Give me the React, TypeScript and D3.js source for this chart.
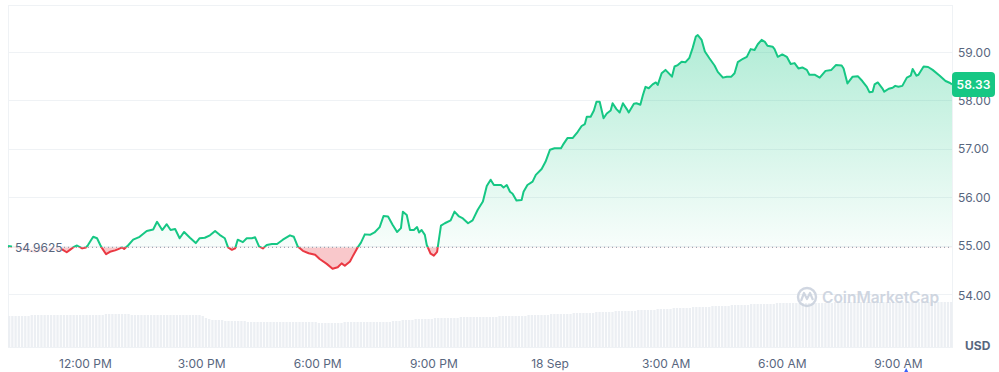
import React, { useRef, useEffect } from 'react';
import * as d3 from 'd3';

const width = 999;
const height = 372;
const plot = { left: 8, right: 952, top: 5, bottom: 347 };

// minutes after 10:00 AM on 17 Sep
const priceMinutes = [
  0, 11, 26, 42, 57, 73, 85, 91, 96, 102,
  107, 115, 121, 124, 132, 138, 143, 146, 152, 158,
  166, 170, 177, 180, 186, 194, 204, 215, 225, 231,
  239, 246, 252, 259, 266, 273, 282, 291, 297, 305,
  313, 321, 328, 336, 341, 347, 352, 356, 364, 370,
  378, 383, 389, 395, 401, 409, 417, 426, 437, 443,
  449, 457, 466, 476, 483, 494, 503, 511, 517, 522,
  530, 534, 541, 547, 553, 561, 568, 576, 582, 589,
  596, 603, 609, 612, 618, 623, 629, 634, 637, 641,
  646, 649, 655, 660, 665, 671, 677, 686, 692, 699,
  705, 713, 720, 728, 736, 742, 748, 753, 764, 768,
  773, 778, 782, 788, 796, 799, 805, 813, 818, 827,
  833, 840, 847, 857, 860, 867, 875, 883, 889, 894,
  897, 903, 908, 912, 917, 923, 928, 934, 937, 943,
  948, 953, 959, 962, 970, 974, 980, 984, 988, 993,
  999, 1004, 1007, 1013, 1019, 1022, 1029, 1033, 1038, 1044,
  1050, 1056, 1061, 1066, 1069, 1075, 1080, 1087, 1095, 1100,
  1108, 1114, 1121, 1126, 1131, 1139, 1145, 1151, 1157, 1162,
  1168, 1173, 1177, 1185, 1188, 1193, 1200, 1207, 1213, 1219,
  1225, 1231, 1238, 1242, 1250, 1258, 1267, 1276, 1283, 1292,
  1295, 1301, 1309, 1317, 1324, 1331, 1335, 1340, 1343, 1348,
  1355, 1358, 1365, 1371, 1375, 1380, 1386, 1393, 1399, 1402,
  1408, 1411, 1419, 1426, 1433, 1444, 1453, 1460, 1463,
];

const priceValues = [
  54.99, 54.97, 54.91, 54.87, 54.91, 54.93, 54.91, 54.86, 54.91, 54.97,
  55.0, 54.94, 54.96, 55.01, 55.18, 55.15, 55.01, 54.94, 54.82, 54.87,
  54.9, 54.92, 54.96, 54.93, 55.0, 55.12, 55.18, 55.3, 55.33, 55.49,
  55.32, 55.44, 55.32, 55.34, 55.15, 55.28, 55.16, 55.05, 55.15, 55.16,
  55.21, 55.3, 55.22, 55.15, 54.96, 54.91, 54.94, 55.12, 55.07, 55.15,
  55.15, 55.17, 54.98, 54.94, 55.01, 55.03, 55.03, 55.12, 55.21, 55.18,
  54.98, 54.89, 54.84, 54.81, 54.72, 54.62, 54.52, 54.55, 54.63, 54.58,
  54.67, 54.77, 54.94, 55.06, 55.23, 55.22, 55.27, 55.38, 55.61, 55.6,
  55.43, 55.28, 55.36, 55.7, 55.63, 55.32, 55.32, 55.38, 55.27, 55.32,
  55.22, 55.01, 54.83, 54.79, 54.87, 55.41, 55.46, 55.52, 55.7, 55.6,
  55.56, 55.46, 55.52, 55.74, 55.91, 56.23, 56.36, 56.25, 56.25, 56.2,
  56.25, 56.11, 56.07, 55.93, 55.94, 56.11, 56.25, 56.32, 56.46, 56.58,
  56.73, 56.98, 57.01, 57.01, 57.08, 57.22, 57.22, 57.35, 57.47, 57.51,
  57.66, 57.66, 57.79, 57.97, 57.97, 57.63, 57.73, 57.79, 57.94, 57.82,
  57.75, 57.94, 57.82, 57.75, 57.93, 57.94, 57.91, 58.11, 58.28, 58.25,
  58.33, 58.37, 58.32, 58.56, 58.63, 58.59, 58.49, 58.7, 58.73, 58.8,
  58.79, 58.88, 59.08, 59.32, 59.35, 59.25, 59.01, 58.87, 58.72, 58.59,
  58.47, 58.49, 58.49, 58.56, 58.79, 58.86, 58.9, 59.06, 59.04, 59.16,
  59.25, 59.21, 59.13, 59.11, 59.06, 58.9, 58.95, 58.9, 58.75, 58.77,
  58.66, 58.68, 58.63, 58.53, 58.53, 58.47, 58.61, 58.63, 58.73, 58.72,
  58.66, 58.35, 58.49, 58.5, 58.4, 58.28, 58.17, 58.18, 58.33, 58.37,
  58.25, 58.18, 58.24, 58.26, 58.3, 58.28, 58.3, 58.47, 58.51, 58.65,
  58.51, 58.53, 58.7, 58.69, 58.63, 58.51, 58.4, 58.36, 58.33,
];

const baselinePrice = 54.9625;
const lastPrice = 58.33;
const priceTicks = [54, 55, 56, 57, 58, 59];

// volume bars, one every 5 minutes from 10:00 AM (one row per hour)
const volumeStep = 5;
const volumes = [
  31, 31, 31, 31, 31, 31, 31, 32, 32, 32, 32, 32,
  32, 32, 32, 32, 32, 32, 32, 32, 32, 32, 32, 32,
  32, 32, 32, 32, 32, 32, 33, 33, 33, 33, 33, 33,
  33, 33, 32, 32, 32, 32, 32, 32, 32, 32, 32, 32,
  32, 32, 32, 32, 32, 32, 32, 32, 32, 32, 32, 32,
  31, 29, 28, 27, 27, 27, 27, 26, 26, 26, 26, 26,
  26, 26, 25, 25, 25, 25, 25, 25, 25, 25, 25, 25,
  25, 25, 25, 25, 25, 25, 25, 25, 25, 25, 25, 25,
  24, 24, 24, 24, 24, 24, 24, 24, 25, 25, 25, 25,
  25, 25, 25, 25, 25, 25, 25, 25, 25, 25, 25, 26,
  26, 26, 27, 27, 27, 27, 28, 28, 28, 28, 28, 28,
  29, 29, 29, 29, 29, 29, 29, 29, 30, 30, 30, 30,
  30, 30, 30, 30, 30, 30, 30, 30, 31, 31, 31, 31,
  31, 31, 31, 31, 31, 32, 32, 32, 32, 32, 32, 32,
  33, 33, 33, 33, 33, 33, 33, 34, 34, 34, 34, 34,
  34, 34, 35, 35, 35, 35, 35, 35, 36, 36, 36, 36,
  36, 36, 36, 37, 37, 37, 37, 37, 37, 38, 38, 38,
  38, 38, 39, 39, 39, 39, 39, 39, 40, 40, 40, 40,
  40, 40, 41, 41, 41, 41, 41, 41, 42, 42, 42, 42,
  42, 42, 43, 43, 43, 43, 43, 43, 43, 43, 44, 44,
  44, 44, 44, 44, 44, 44, 44, 44, 44, 44, 44, 44,
  44, 44, 44, 44, 45, 45, 45, 45, 45, 45, 45, 45,
  45, 45, 45, 45, 45, 45, 45, 45, 45, 45, 45, 45,
  45, 45, 45, 45, 45, 45, 45, 45, 45, 45, 45, 45,
  45, 45, 45, 45, 45,
];

const green = '#16c784';
const red = '#ea3943';
const textGray = '#58667e';
const gridGray = '#eff2f5';
const font = 'Inter, "Noto Sans", sans-serif';

const startTime = new Date(2024, 8, 17, 10, 0);
const endTime = d3.timeMinute.offset(startTime, 1463);

const PriceChart: React.FC = () => {
  const chartRef = useRef<HTMLDivElement>(null);

  useEffect(() => {
    document.body.style.margin = '0';
    const data = priceMinutes.map((m, i) => ({
      t: d3.timeMinute.offset(startTime, m),
      p: priceValues[i],
    }));

    const x = d3.scaleTime().domain([startTime, endTime]).range([plot.left, plot.right]);
    const y = d3.scaleLinear().domain([55, 59]).range([245.5, 52]);
    const yVol = d3.scaleLinear().domain([0, 50]).range([plot.bottom, 297]);
    const yBase = y(baselinePrice);

    d3.select(chartRef.current).selectAll('svg').remove();
    const svg = d3
      .select(chartRef.current)
      .append('svg')
      .attr('width', width)
      .attr('height', height)
      .attr('viewBox', `0 0 ${width} ${height}`)
      .style('display', 'block')
      .style('font-family', font);

    const defs = svg.append('defs');
    const gUp = defs
      .append('linearGradient')
      .attr('id', 'upFill')
      .attr('gradientUnits', 'userSpaceOnUse')
      .attr('x1', 0)
      .attr('x2', 0)
      .attr('y1', y(59.4))
      .attr('y2', yBase);
    gUp.append('stop').attr('offset', 0).attr('stop-color', green).attr('stop-opacity', 0.34);
    gUp.append('stop').attr('offset', 1).attr('stop-color', green).attr('stop-opacity', 0.03);

    defs
      .append('clipPath')
      .attr('id', 'clipUp')
      .append('rect')
      .attr('x', 0)
      .attr('y', 0)
      .attr('width', width)
      .attr('height', yBase);
    defs
      .append('clipPath')
      .attr('id', 'clipDown')
      .append('rect')
      .attr('x', 0)
      .attr('y', yBase)
      .attr('width', width)
      .attr('height', height - yBase);

    /** frame + grid */
    svg
      .append('rect')
      .attr('x', plot.left + 0.5)
      .attr('y', plot.top + 0.5)
      .attr('width', plot.right - plot.left)
      .attr('height', plot.bottom - plot.top)
      .attr('fill', 'none')
      .attr('stroke', gridGray);

    svg
      .append('g')
      .selectAll('line')
      .data(priceTicks)
      .join('line')
      .attr('x1', plot.left)
      .attr('x2', plot.right)
      .attr('y1', (d) => Math.round(y(d)) + 0.5)
      .attr('y2', (d) => Math.round(y(d)) + 0.5)
      .attr('stroke', gridGray);

    /** volume */
    svg
      .append('g')
      .attr('fill', '#eceff3')
      .selectAll('rect')
      .data(volumes)
      .join('rect')
      .attr('x', (d, i) => x(d3.timeMinute.offset(startTime, i * volumeStep)))
      .attr('y', (d) => yVol(d))
      .attr('width', 2.3)
      .attr('height', (d) => plot.bottom - yVol(d));

    /** watermark */
    const wm = svg.append('g').attr('opacity', 0.85);
    wm.append('circle')
      .attr('cx', 807)
      .attr('cy', 297)
      .attr('r', 9)
      .attr('fill', 'none')
      .attr('stroke', '#c8d0dc')
      .attr('stroke-width', 2.4);
    wm.append('path')
      .attr('d', 'M801,301 L804,293 L807,299 L810,293 L813,300')
      .attr('fill', 'none')
      .attr('stroke', '#c8d0dc')
      .attr('stroke-width', 2.2)
      .attr('stroke-linejoin', 'round');
    wm.append('text')
      .attr('x', 822)
      .attr('y', 297)
      .attr('dominant-baseline', 'central')
      .attr('font-size', 15.5)
      .attr('font-weight', 600)
      .attr('fill', '#c8d0dc')
      .text('CoinMarketCap');

    /** areas */
    const area = d3
      .area<{ t: Date; p: number }>()
      .x((d) => x(d.t))
      .y0(yBase)
      .y1((d) => y(d.p));
    svg
      .append('path')
      .datum(data)
      .attr('clip-path', 'url(#clipUp)')
      .attr('fill', 'url(#upFill)')
      .attr('d', area);
    svg
      .append('path')
      .datum(data)
      .attr('clip-path', 'url(#clipDown)')
      .attr('fill', red)
      .attr('fill-opacity', 0.28)
      .attr('d', area);

    /** baseline */
    svg
      .append('line')
      .attr('x1', plot.left)
      .attr('x2', plot.right)
      .attr('y1', yBase)
      .attr('y2', yBase)
      .attr('stroke', '#8a93a4')
      .attr('stroke-width', 1)
      .attr('stroke-dasharray', '1 3');

    /** price line */
    const line = d3
      .line<{ t: Date; p: number }>()
      .x((d) => x(d.t))
      .y((d) => y(d.p));
    svg
      .append('path')
      .datum(data)
      .attr('clip-path', 'url(#clipUp)')
      .attr('fill', 'none')
      .attr('stroke', green)
      .attr('stroke-width', 2)
      .attr('stroke-linejoin', 'round')
      .attr('d', line);
    svg
      .append('path')
      .datum(data)
      .attr('clip-path', 'url(#clipDown)')
      .attr('fill', 'none')
      .attr('stroke', red)
      .attr('stroke-width', 2)
      .attr('stroke-linejoin', 'round')
      .attr('d', line);

    /** baseline label */
    svg
      .append('rect')
      .attr('x', 12)
      .attr('y', yBase - 8)
      .attr('width', 50)
      .attr('height', 16)
      .attr('rx', 2)
      .attr('fill', '#fff')
      .attr('fill-opacity', 0.85);
    svg
      .append('text')
      .attr('x', 15)
      .attr('y', yBase)
      .attr('dominant-baseline', 'central')
      .attr('font-size', 12)
      .attr('fill', textGray)
      .text(String(baselinePrice));

    /** y axis labels */
    svg
      .append('g')
      .selectAll('text')
      .data(priceTicks)
      .join('text')
      .attr('x', 958)
      .attr('y', (d) => y(d) + (d === 54 ? 2 : 0))
      .attr('dominant-baseline', 'central')
      .attr('font-size', 12)
      .attr('fill', textGray)
      .text((d) => d.toFixed(2));

    /** current price tag */
    const yLast = y(lastPrice);
    svg
      .append('rect')
      .attr('x', plot.right)
      .attr('y', yLast - 12.5)
      .attr('width', 43)
      .attr('height', 25)
      .attr('rx', 4)
      .attr('fill', green);
    svg
      .append('text')
      .attr('x', plot.right + 21.5)
      .attr('y', yLast)
      .attr('text-anchor', 'middle')
      .attr('dominant-baseline', 'central')
      .attr('font-size', 12)
      .attr('font-weight', 600)
      .attr('fill', '#fff')
      .text(lastPrice.toFixed(2));

    svg
      .append('text')
      .attr('x', 965)
      .attr('y', 345)
      .attr('dominant-baseline', 'central')
      .attr('font-size', 12)
      .attr('font-weight', 700)
      .attr('fill', textGray)
      .text('USD');

    /** x axis labels */
    const fmt = (d: Date) =>
      d.getHours() === 0 ? d3.timeFormat('%-d %b')(d) : d3.timeFormat('%-I:%M %p')(d);
    svg
      .append('g')
      .selectAll('text')
      .data(x.ticks(d3.timeHour.every(3)!))
      .join('text')
      .attr('x', (d) => x(d))
      .attr('y', 363)
      .attr('text-anchor', 'middle')
      .attr('dominant-baseline', 'central')
      .attr('font-size', 12)
      .attr('fill', textGray)
      .text(fmt);

    /** event marker under the axis */
    const mx = x(new Date(2024, 8, 18, 9, 12));
    svg
      .append('path')
      .attr('d', `M${mx},368 L${mx - 2.5},373 L${mx + 2.5},373 Z`)
      .attr('fill', '#3861fb');
  }, []);

  return <div ref={chartRef} />;
};

export default function App() {
  return <PriceChart />;
}
